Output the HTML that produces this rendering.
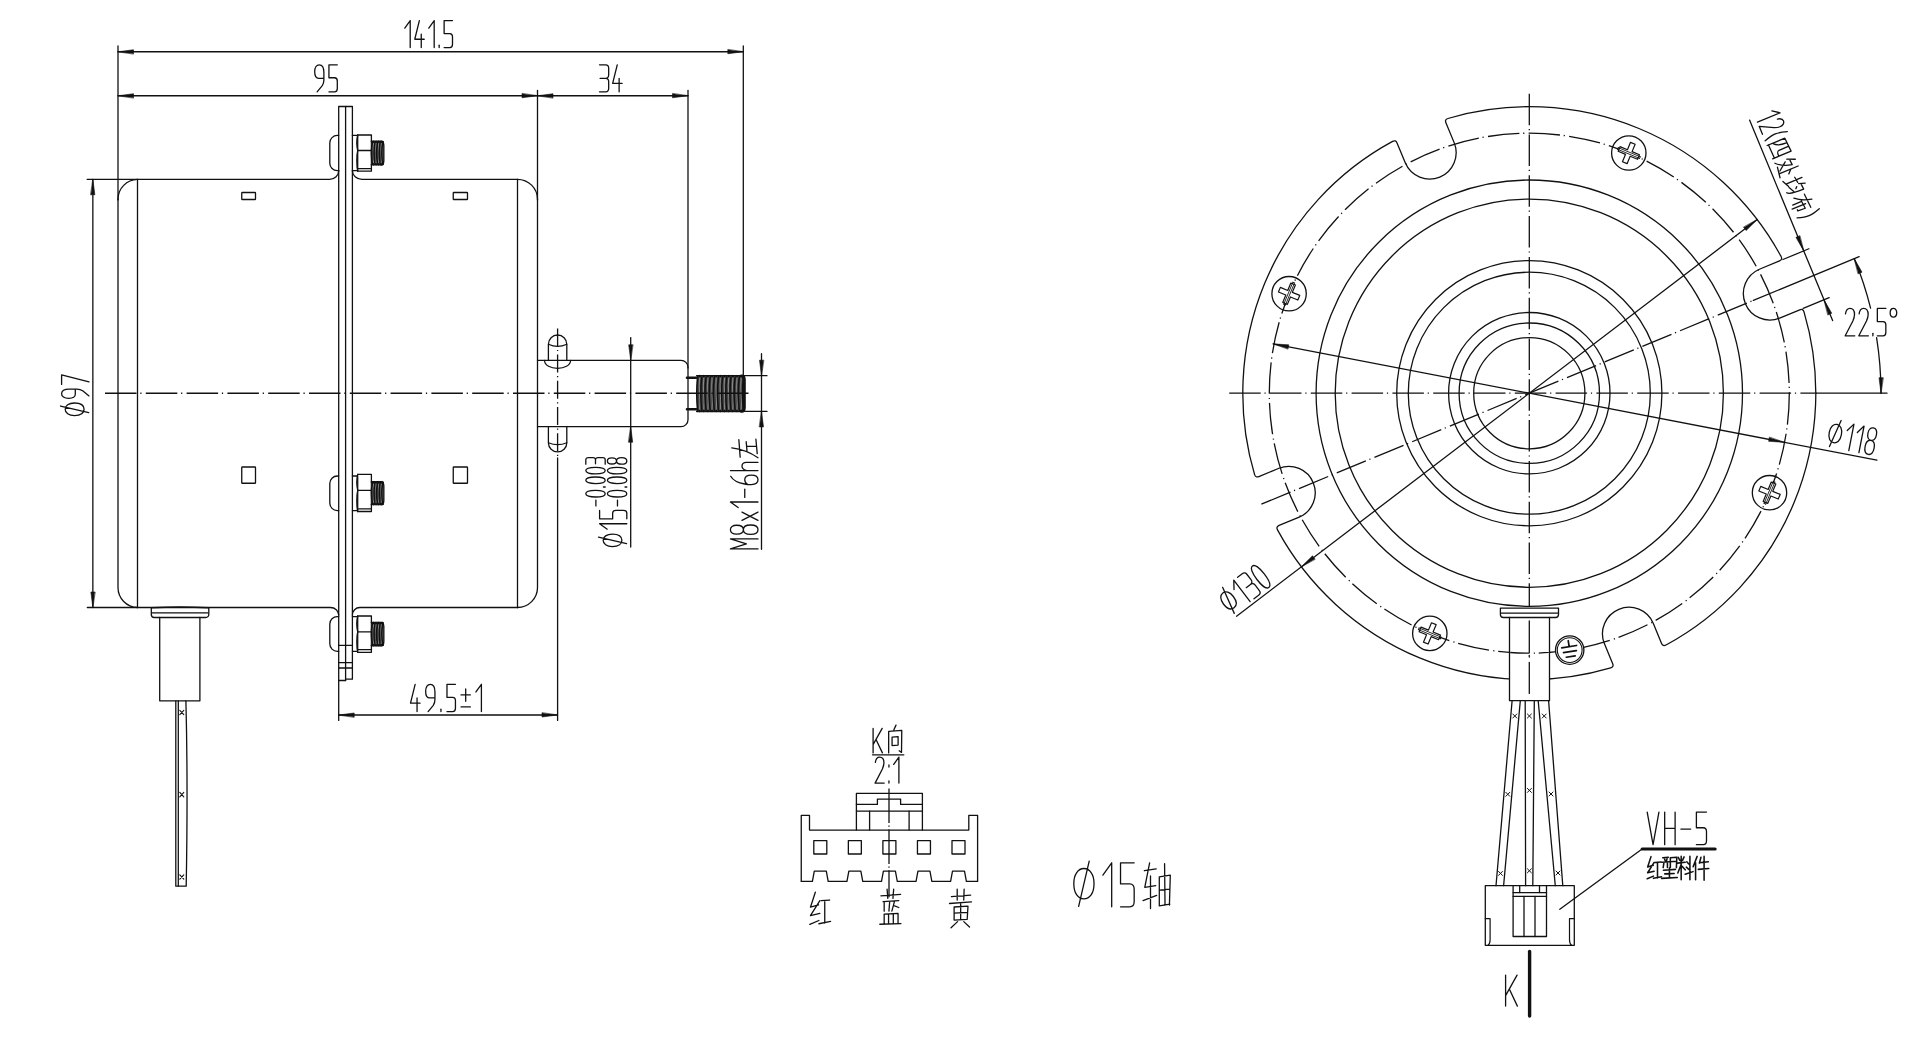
<!DOCTYPE html>
<html><head><meta charset="utf-8"><style>
html,body{margin:0;padding:0;background:#fff;width:1920px;height:1043px;overflow:hidden;font-family:"Liberation Sans",sans-serif;}
svg{display:block}
svg *{vector-effect:non-scaling-stroke}
.ar{fill:#111;stroke:#111;stroke-width:0.6px}
.t{stroke-width:inherit}
.cl{stroke-dasharray:31.5 3.8 1.2 4.3;stroke-linecap:butt}
.cl2{stroke-dasharray:18 3.5 1.2 3.5;stroke-linecap:butt}
.cl3{stroke-dasharray:34.5 2.6 1.2 2.6;stroke-linecap:butt}
.clc{stroke-dasharray:31.5 3.8 1.2 4.3;stroke-linecap:butt}
</style></head><body>
<svg width="1920" height="1043" viewBox="0 0 1920 1043">
<defs><clipPath id="sl"><rect x="1510.2" y="618" width="38.6" height="82"/></clipPath></defs>
<rect width="1920" height="1043" fill="#fff"/>
<g fill="none" stroke="#111" stroke-width="1.3" stroke-linecap="round" stroke-linejoin="round" style="stroke-width:1.3px">
<line x1="118" y1="46" x2="118" y2="200"/>
<line x1="743.3" y1="46" x2="743.3" y2="376"/>
<line x1="118" y1="51.75" x2="743.3" y2="51.75"/>
<path class="ar" d="M118,51.75 L133.5,49.75 L133.5,53.75 Z"/>
<path class="ar" d="M743.3,51.75 L727.8,53.75 L727.8,49.75 Z"/>
<g transform="translate(404.8,47.6) rotate(0)"><path class="t" transform="translate(0,-27) scale(0.2700,0.2700)" d="M0,28 L20,0 L20,100"/><path class="t" transform="translate(9.97,-27) scale(0.2700,0.2700)" d="M17,0 L0,69 L35,69 M24,50 L24,100"/><path class="t" transform="translate(23.99,-27) scale(0.2700,0.2700)" d="M0,28 L20,0 L20,100"/><path class="t" transform="translate(33.95,-27) scale(0.2700,0.2700)" d="M1.5,91 L1.5,100"/><path class="t" transform="translate(39.33,-27) scale(0.2700,0.2700)" d="M31,0 L0,0 L0,48 L21,48 C28,48 31,53 31,60 L31,88 C31,95 28,100 21,100 L0,100"/></g>
<line x1="118" y1="95.75" x2="688" y2="95.75"/>
<path class="ar" d="M118,95.75 L133.5,93.75 L133.5,97.75 Z"/>
<path class="ar" d="M537.5,95.75 L522,97.75 L522,93.75 Z"/>
<path class="ar" d="M537.5,95.75 L553,93.75 L553,97.75 Z"/>
<path class="ar" d="M688,95.75 L672.5,97.75 L672.5,93.75 Z"/>
<line x1="537.5" y1="90.5" x2="537.5" y2="200"/>
<line x1="688" y1="90.5" x2="688" y2="368"/>
<g transform="translate(314.7,91.8) rotate(0)"><path class="t" transform="translate(0,-27) scale(0.2700,0.2700)" d="M34,50 L15,50 C5,50 0,42 0,26 C0,9 7,0 17,0 C28,0 34,10 34,28 L34,56 C34,64 32,71 28,77 L9,100"/><path class="t" transform="translate(14.23,-27) scale(0.2700,0.2700)" d="M31,0 L0,0 L0,48 L21,48 C28,48 31,53 31,60 L31,88 C31,95 28,100 21,100 L0,100"/></g>
<g transform="translate(599.5,91.8) rotate(0)"><path class="t" transform="translate(0,-27) scale(0.2700,0.2700)" d="M0,0 L23,0 C30,0 34,5 34,13 L34,37 C34,45 30,50 23,50 L2,50 M23,50 C30,50 34,55 34,63 L34,87 C34,95 30,100 23,100 L0,100"/><path class="t" transform="translate(13.15,-27) scale(0.2700,0.2700)" d="M17,0 L0,69 L35,69 M24,50 L24,100"/></g>
<path d="M118,199.3 L118,587.5 A20,20 0 0 0 137.5,607.5"/>
<path d="M118,199.3 A20,20 0 0 1 137.5,179.3"/>
<path d="M537.5,199.3 L537.5,587.5 A20,20 0 0 1 517.5,607.5"/>
<path d="M537.5,199.3 A20,20 0 0 0 517.5,179.3"/>
<line x1="137.5" y1="179.3" x2="137.5" y2="607.5"/>
<line x1="517.5" y1="179.3" x2="517.5" y2="607.5"/>
<path d="M87.1,179.3 L329.8,179.3 A9,8.6 0 0 0 338.7,170.7"/>
<path d="M352.4,170.7 A9.4,8.6 0 0 0 361.8,179.3 L517.5,179.3"/>
<path d="M87.3,607.5 L330.5,607.5 A8.2,7.6 0 0 1 338.7,615.1"/>
<path d="M352.4,615.1 A7.4,7.6 0 0 1 359.8,607.5 L517.5,607.5"/>
<rect x="241.75" y="192.5" width="13.75" height="7" rx="0.6"/>
<rect x="241.75" y="467" width="13.75" height="16.25" rx="0.6"/>
<rect x="453.25" y="192.5" width="14.25" height="7" rx="0.6"/>
<rect x="453.25" y="467" width="14.25" height="16.25" rx="0.6"/>
<path d="M338.7,720.4 L338.7,106.5 L352.4,106.5 L352.4,679.2 L345.6,679.2"/>
<line x1="345.6" y1="106.5" x2="345.6" y2="680.5"/>
<line x1="338.7" y1="680.5" x2="345.6" y2="680.5"/>
<line x1="338.7" y1="645.4" x2="352.4" y2="645.4"/>
<line x1="338.7" y1="662.6" x2="352.4" y2="662.6"/>
<line x1="338.7" y1="668" x2="352.4" y2="668"/>
<path d="M338.7,135.4 L337.3,135.4 A7.5,7.5 0 0 0 329.8,142.9 L329.8,163.2 A7.5,7.5 0 0 0 337.3,170.7 L338.7,170.7"/>
<path d="M352.4,135.4 L357.7,135.4 L357.7,170.7 L352.4,170.7"/>
<path d="M357.7,135 L371.4,135 L371.4,171.2 L357.7,171.2"/>
<path d="M357.7,135 C356.5,140 356.5,145.5 357.7,150.5 C356.5,155.5 356.5,166.2 357.7,171.2"/>
<line x1="357.7" y1="150.5" x2="371.4" y2="150.5"/>
<line x1="358" y1="168.6" x2="371.4" y2="168.6"/>
<rect x="371.4" y="142.4" width="11.4" height="21.3" fill="#444" stroke="none"/>
<path d="M372.5,142 C371.2,148.39 371.2,157.71 372.5,164.1" stroke-width="1.5"/>
<path d="M373.5,143.4 C372.72,149.56 374.28,156.54 373.5,162.7" stroke-width="0.6" stroke="#bbb"/>
<circle cx="373.5" cy="141.8" r="0.9" stroke-width="0.6" fill="#000"/>
<circle cx="373.5" cy="164.3" r="0.9" stroke-width="0.6" fill="#000"/>
<path d="M375.1,142 C373.8,148.39 373.8,157.71 375.1,164.1" stroke-width="1.5"/>
<path d="M376.1,143.4 C375.32,149.56 376.88,156.54 376.1,162.7" stroke-width="0.6" stroke="#bbb"/>
<circle cx="376.1" cy="141.8" r="0.9" stroke-width="0.6" fill="#000"/>
<circle cx="376.1" cy="164.3" r="0.9" stroke-width="0.6" fill="#000"/>
<path d="M377.7,142 C376.4,148.39 376.4,157.71 377.7,164.1" stroke-width="1.5"/>
<path d="M378.7,143.4 C377.92,149.56 379.48,156.54 378.7,162.7" stroke-width="0.6" stroke="#bbb"/>
<circle cx="378.7" cy="141.8" r="0.9" stroke-width="0.6" fill="#000"/>
<circle cx="378.7" cy="164.3" r="0.9" stroke-width="0.6" fill="#000"/>
<path d="M380.3,142 C379,148.39 379,157.71 380.3,164.1" stroke-width="1.5"/>
<path d="M381.3,143.4 C380.52,149.56 382.08,156.54 381.3,162.7" stroke-width="0.6" stroke="#bbb"/>
<circle cx="381.3" cy="141.8" r="0.9" stroke-width="0.6" fill="#000"/>
<circle cx="381.3" cy="164.3" r="0.9" stroke-width="0.6" fill="#000"/>
<path d="M382.9,142 C381.6,148.39 381.6,157.71 382.9,164.1" stroke-width="1.5"/>
<circle cx="382.6" cy="141.8" r="0.9" stroke-width="0.6" fill="#000"/>
<circle cx="382.6" cy="164.3" r="0.9" stroke-width="0.6" fill="#000"/>
<path d="M371.4,141.4 L381.3,141.4 M371.4,164.7 L381.3,164.7" stroke-width="1.6"/>
<path d="M380.8,141.4 C383.3,141.4 383.8,142.9 383.8,145.4 L383.8,160.7 C383.8,163.2 383.3,164.7 380.8,164.7" stroke-width="1.4"/>
<path d="M338.7,476 L337.3,476 A7.5,7.5 0 0 0 329.8,483.5 L329.8,503.1 A7.5,7.5 0 0 0 337.3,510.6 L338.7,510.6"/>
<path d="M352.4,476 L357.7,476 L357.7,510.6 L352.4,510.6"/>
<path d="M357.7,474.4 L371.4,474.4 L371.4,511.5 L357.7,511.5"/>
<path d="M357.7,474.4 C356.5,479.4 356.5,485.3 357.7,490.3 C356.5,495.3 356.5,506.5 357.7,511.5"/>
<line x1="357.7" y1="490.3" x2="371.4" y2="490.3"/>
<line x1="358" y1="508.9" x2="371.4" y2="508.9"/>
<rect x="371.4" y="482.9" width="11.4" height="20.6" fill="#444" stroke="none"/>
<path d="M372.5,482.5 C371.2,488.68 371.2,497.72 372.5,503.9" stroke-width="1.5"/>
<path d="M373.5,483.9 C372.72,489.81 374.28,496.59 373.5,502.5" stroke-width="0.6" stroke="#bbb"/>
<circle cx="373.5" cy="482.3" r="0.9" stroke-width="0.6" fill="#000"/>
<circle cx="373.5" cy="504.1" r="0.9" stroke-width="0.6" fill="#000"/>
<path d="M375.1,482.5 C373.8,488.68 373.8,497.72 375.1,503.9" stroke-width="1.5"/>
<path d="M376.1,483.9 C375.32,489.81 376.88,496.59 376.1,502.5" stroke-width="0.6" stroke="#bbb"/>
<circle cx="376.1" cy="482.3" r="0.9" stroke-width="0.6" fill="#000"/>
<circle cx="376.1" cy="504.1" r="0.9" stroke-width="0.6" fill="#000"/>
<path d="M377.7,482.5 C376.4,488.68 376.4,497.72 377.7,503.9" stroke-width="1.5"/>
<path d="M378.7,483.9 C377.92,489.81 379.48,496.59 378.7,502.5" stroke-width="0.6" stroke="#bbb"/>
<circle cx="378.7" cy="482.3" r="0.9" stroke-width="0.6" fill="#000"/>
<circle cx="378.7" cy="504.1" r="0.9" stroke-width="0.6" fill="#000"/>
<path d="M380.3,482.5 C379,488.68 379,497.72 380.3,503.9" stroke-width="1.5"/>
<path d="M381.3,483.9 C380.52,489.81 382.08,496.59 381.3,502.5" stroke-width="0.6" stroke="#bbb"/>
<circle cx="381.3" cy="482.3" r="0.9" stroke-width="0.6" fill="#000"/>
<circle cx="381.3" cy="504.1" r="0.9" stroke-width="0.6" fill="#000"/>
<path d="M382.9,482.5 C381.6,488.68 381.6,497.72 382.9,503.9" stroke-width="1.5"/>
<circle cx="382.6" cy="482.3" r="0.9" stroke-width="0.6" fill="#000"/>
<circle cx="382.6" cy="504.1" r="0.9" stroke-width="0.6" fill="#000"/>
<path d="M371.4,481.9 L381.3,481.9 M371.4,504.5 L381.3,504.5" stroke-width="1.6"/>
<path d="M380.8,481.9 C383.3,481.9 383.8,483.4 383.8,485.9 L383.8,500.5 C383.8,503 383.3,504.5 380.8,504.5" stroke-width="1.4"/>
<path d="M338.7,616.6 L337.3,616.6 A7.5,7.5 0 0 0 329.8,624.1 L329.8,643.8 A7.5,7.5 0 0 0 337.3,651.3 L338.7,651.3"/>
<path d="M352.4,616.6 L357.7,616.6 L357.7,651.3 L352.4,651.3"/>
<path d="M357.7,616 L371.4,616 L371.4,652.3 L357.7,652.3"/>
<path d="M357.7,616 C356.5,621 356.5,626.8 357.7,631.8 C356.5,636.8 356.5,647.3 357.7,652.3"/>
<line x1="357.7" y1="631.8" x2="371.4" y2="631.8"/>
<line x1="358" y1="649.7" x2="371.4" y2="649.7"/>
<rect x="371.4" y="623.6" width="11.4" height="21" fill="#444" stroke="none"/>
<path d="M372.5,623.2 C371.2,629.5 371.2,638.7 372.5,645" stroke-width="1.5"/>
<path d="M373.5,624.6 C372.72,630.65 374.28,637.55 373.5,643.6" stroke-width="0.6" stroke="#bbb"/>
<circle cx="373.5" cy="623" r="0.9" stroke-width="0.6" fill="#000"/>
<circle cx="373.5" cy="645.2" r="0.9" stroke-width="0.6" fill="#000"/>
<path d="M375.1,623.2 C373.8,629.5 373.8,638.7 375.1,645" stroke-width="1.5"/>
<path d="M376.1,624.6 C375.32,630.65 376.88,637.55 376.1,643.6" stroke-width="0.6" stroke="#bbb"/>
<circle cx="376.1" cy="623" r="0.9" stroke-width="0.6" fill="#000"/>
<circle cx="376.1" cy="645.2" r="0.9" stroke-width="0.6" fill="#000"/>
<path d="M377.7,623.2 C376.4,629.5 376.4,638.7 377.7,645" stroke-width="1.5"/>
<path d="M378.7,624.6 C377.92,630.65 379.48,637.55 378.7,643.6" stroke-width="0.6" stroke="#bbb"/>
<circle cx="378.7" cy="623" r="0.9" stroke-width="0.6" fill="#000"/>
<circle cx="378.7" cy="645.2" r="0.9" stroke-width="0.6" fill="#000"/>
<path d="M380.3,623.2 C379,629.5 379,638.7 380.3,645" stroke-width="1.5"/>
<path d="M381.3,624.6 C380.52,630.65 382.08,637.55 381.3,643.6" stroke-width="0.6" stroke="#bbb"/>
<circle cx="381.3" cy="623" r="0.9" stroke-width="0.6" fill="#000"/>
<circle cx="381.3" cy="645.2" r="0.9" stroke-width="0.6" fill="#000"/>
<path d="M382.9,623.2 C381.6,629.5 381.6,638.7 382.9,645" stroke-width="1.5"/>
<circle cx="382.6" cy="623" r="0.9" stroke-width="0.6" fill="#000"/>
<circle cx="382.6" cy="645.2" r="0.9" stroke-width="0.6" fill="#000"/>
<path d="M371.4,622.6 L381.3,622.6 M371.4,645.6 L381.3,645.6" stroke-width="1.6"/>
<path d="M380.8,622.6 C383.3,622.6 383.8,624.1 383.8,626.6 L383.8,641.6 C383.8,644.1 383.3,645.6 380.8,645.6" stroke-width="1.4"/>
<line x1="92.85" y1="179.3" x2="92.85" y2="607.5"/>
<path class="ar" d="M92.85,179.3 L94.85,194.8 L90.85,194.8 Z"/>
<path class="ar" d="M92.85,607.5 L90.85,592 L94.85,592 Z"/>
<g transform="translate(89,415.6) rotate(-90)"><path class="t" transform="translate(0,-27.4) scale(0.2740,0.2740)" d="M23,13 C10,13 0,26 0,47 C0,70 10,82 23,82 C36,82 46,70 46,47 C46,26 36,13 23,13 Z M35,-4 L11,99"/><path class="t" transform="translate(17.25,-27.4) scale(0.2740,0.2740)" d="M34,50 L15,50 C5,50 0,42 0,26 C0,9 7,0 17,0 C28,0 34,10 34,28 L34,56 C34,64 32,71 28,77 L9,100"/><path class="t" transform="translate(31.21,-27.4) scale(0.2740,0.2740)" d="M0,0 L35,0 L9,100"/></g>
<path d="M151.3,608 L151.3,614.5 A3,3 0 0 0 154.3,617.5 L205.8,617.5 A3,3 0 0 0 208.8,614.5 L208.8,608"/>
<path d="M151.5,607.8 Q180,606.3 208.5,607.8" stroke-width="1.6"/>
<line x1="152" y1="612.9" x2="208" y2="612.9"/>
<path d="M159.7,617.5 L159.7,700.8 L199.9,700.8 L199.9,617.5"/>
<path d="M175.8,700.8 L175.8,886.2 L186.2,886.2 C187.4,820 187.4,760 185.9,700.8"/>
<line x1="178.3" y1="700.8" x2="178.3" y2="886.2"/>
<path d="M179.8,710.3 L183.8,714.7 M183.8,710.3 L179.8,714.7" stroke-width="1.1"/>
<path d="M179.8,792.4 L183.8,796.8 M183.8,792.4 L179.8,796.8" stroke-width="1.1"/>
<path d="M179.8,874.8 L183.8,879.2 M183.8,874.8 L179.8,879.2" stroke-width="1.1"/>
<path d="M537.5,360.3 L681,360.3 A7,7 0 0 1 688,367.3 L688,419.7 A7,7 0 0 1 681,426.7 L537.5,426.7"/>
<path d="M548.4,360.3 L548.4,344.2 A9.2,9.2 0 0 1 566.8,344.2 L566.8,360.3"/>
<path d="M548.4,344.2 Q557.6,348.5 566.8,344.2" stroke-width="1.1"/>
<path d="M544.5,360.3 C544.5,371 570.6,371 570.6,360.3" stroke-width="1.2"/>
<path d="M548.4,426.7 L548.4,442.7 A9.2,9.2 0 0 0 566.8,442.7 L566.8,426.7"/>
<path d="M548.4,442.7 Q557.6,446.5 566.8,442.7" stroke-width="1.1"/>
<line x1="557.6" y1="328.4" x2="557.6" y2="458" class="cl2"/>
<line x1="557.6" y1="458" x2="557.6" y2="720.4"/>
<path d="M687,377.8 L697,377.8 M687,409.2 L697,409.2" stroke-width="2.6"/>
<rect x="696.7" y="376.8" width="46.7" height="33.6" fill="#444" stroke="none"/>
<path d="M697.8,376.4 C696.5,386.48 696.5,400.72 697.8,410.8" stroke-width="1.5"/>
<path d="M699.58,377.8 C698.33,388.26 700.82,398.94 699.58,409.4" stroke-width="0.6" stroke="#bbb"/>
<circle cx="699.58" cy="376.2" r="0.9" stroke-width="0.6" fill="#000"/>
<circle cx="699.58" cy="411" r="0.9" stroke-width="0.6" fill="#000"/>
<path d="M701.95,376.4 C700.65,386.48 700.65,400.72 701.95,410.8" stroke-width="1.5"/>
<path d="M703.73,377.8 C702.49,388.26 704.98,398.94 703.73,409.4" stroke-width="0.6" stroke="#bbb"/>
<circle cx="703.73" cy="376.2" r="0.9" stroke-width="0.6" fill="#000"/>
<circle cx="703.73" cy="411" r="0.9" stroke-width="0.6" fill="#000"/>
<path d="M706.11,376.4 C704.81,386.48 704.81,400.72 706.11,410.8" stroke-width="1.5"/>
<path d="M707.89,377.8 C706.64,388.26 709.13,398.94 707.89,409.4" stroke-width="0.6" stroke="#bbb"/>
<circle cx="707.89" cy="376.2" r="0.9" stroke-width="0.6" fill="#000"/>
<circle cx="707.89" cy="411" r="0.9" stroke-width="0.6" fill="#000"/>
<path d="M710.26,376.4 C708.96,386.48 708.96,400.72 710.26,410.8" stroke-width="1.5"/>
<path d="M712.04,377.8 C710.79,388.26 713.29,398.94 712.04,409.4" stroke-width="0.6" stroke="#bbb"/>
<circle cx="712.04" cy="376.2" r="0.9" stroke-width="0.6" fill="#000"/>
<circle cx="712.04" cy="411" r="0.9" stroke-width="0.6" fill="#000"/>
<path d="M714.42,376.4 C713.12,386.48 713.12,400.72 714.42,410.8" stroke-width="1.5"/>
<path d="M716.2,377.8 C714.95,388.26 717.44,398.94 716.2,409.4" stroke-width="0.6" stroke="#bbb"/>
<circle cx="716.2" cy="376.2" r="0.9" stroke-width="0.6" fill="#000"/>
<circle cx="716.2" cy="411" r="0.9" stroke-width="0.6" fill="#000"/>
<path d="M718.57,376.4 C717.27,386.48 717.27,400.72 718.57,410.8" stroke-width="1.5"/>
<path d="M720.35,377.8 C719.1,388.26 721.6,398.94 720.35,409.4" stroke-width="0.6" stroke="#bbb"/>
<circle cx="720.35" cy="376.2" r="0.9" stroke-width="0.6" fill="#000"/>
<circle cx="720.35" cy="411" r="0.9" stroke-width="0.6" fill="#000"/>
<path d="M722.73,376.4 C721.43,386.48 721.43,400.72 722.73,410.8" stroke-width="1.5"/>
<path d="M724.5,377.8 C723.26,388.26 725.75,398.94 724.5,409.4" stroke-width="0.6" stroke="#bbb"/>
<circle cx="724.5" cy="376.2" r="0.9" stroke-width="0.6" fill="#000"/>
<circle cx="724.5" cy="411" r="0.9" stroke-width="0.6" fill="#000"/>
<path d="M726.88,376.4 C725.58,386.48 725.58,400.72 726.88,410.8" stroke-width="1.5"/>
<path d="M728.66,377.8 C727.41,388.26 729.91,398.94 728.66,409.4" stroke-width="0.6" stroke="#bbb"/>
<circle cx="728.66" cy="376.2" r="0.9" stroke-width="0.6" fill="#000"/>
<circle cx="728.66" cy="411" r="0.9" stroke-width="0.6" fill="#000"/>
<path d="M731.04,376.4 C729.74,386.48 729.74,400.72 731.04,410.8" stroke-width="1.5"/>
<path d="M732.81,377.8 C731.57,388.26 734.06,398.94 732.81,409.4" stroke-width="0.6" stroke="#bbb"/>
<circle cx="732.81" cy="376.2" r="0.9" stroke-width="0.6" fill="#000"/>
<circle cx="732.81" cy="411" r="0.9" stroke-width="0.6" fill="#000"/>
<path d="M735.19,376.4 C733.89,386.48 733.89,400.72 735.19,410.8" stroke-width="1.5"/>
<path d="M736.97,377.8 C735.72,388.26 738.21,398.94 736.97,409.4" stroke-width="0.6" stroke="#bbb"/>
<circle cx="736.97" cy="376.2" r="0.9" stroke-width="0.6" fill="#000"/>
<circle cx="736.97" cy="411" r="0.9" stroke-width="0.6" fill="#000"/>
<path d="M739.35,376.4 C738.05,386.48 738.05,400.72 739.35,410.8" stroke-width="1.5"/>
<path d="M741.12,377.8 C739.88,388.26 742.37,398.94 741.12,409.4" stroke-width="0.6" stroke="#bbb"/>
<circle cx="741.12" cy="376.2" r="0.9" stroke-width="0.6" fill="#000"/>
<circle cx="741.12" cy="411" r="0.9" stroke-width="0.6" fill="#000"/>
<path d="M743.5,376.4 C742.2,386.48 742.2,400.72 743.5,410.8" stroke-width="1.5"/>
<circle cx="743.2" cy="376.2" r="0.9" stroke-width="0.6" fill="#000"/>
<circle cx="743.2" cy="411" r="0.9" stroke-width="0.6" fill="#000"/>
<path d="M696.7,375.8 L741.9,375.8 M696.7,411.4 L741.9,411.4" stroke-width="1.6"/>
<path d="M741.4,375.8 C743.9,375.8 744.4,377.3 744.4,379.8 L744.4,407.4 C744.4,409.9 743.9,411.4 741.4,411.4" stroke-width="2.8"/>
<line x1="744" y1="375.7" x2="767" y2="375.7"/>
<line x1="744" y1="411.4" x2="767" y2="411.4"/>
<line x1="761.5" y1="353.7" x2="761.5" y2="549.3"/>
<path class="ar" d="M761.5,375.7 L759.5,360.2 L763.5,360.2 Z"/>
<path class="ar" d="M761.5,411.4 L763.5,426.9 L759.5,426.9 Z"/>
<g transform="translate(758,548.9) rotate(-90)"><path class="t" transform="translate(0,-27.6) scale(0.2760,0.2760)" d="M0,100 L0,0 L18,58 L36,0 L36,100"/><path class="t" transform="translate(14.53,-27.6) scale(0.2760,0.2760)" d="M17,0 C7,0 1,8 1,23 C1,39 7,47 17,47 C27,47 33,39 33,23 C33,8 27,0 17,0 Z M17,47 C6,47 0,56 0,73 C0,91 6,100 17,100 C28,100 34,91 34,73 C34,56 28,47 17,47 Z"/><path class="t" transform="translate(28.5,-27.6) scale(0.2760,0.2760)" d="M0,42 L30,100 M30,42 L0,100"/><path class="t" transform="translate(41.37,-27.6) scale(0.2760,0.2760)" d="M0,28 L20,0 L20,100"/><path class="t" transform="translate(51.48,-27.6) scale(0.2760,0.2760)" d="M0,52 L30,52"/><path class="t" transform="translate(64.35,-27.6) scale(0.2760,0.2760)" d="M30,1 C18,8 6,26 2,52 C0,60 0,68 0,76 C0,92 7,100 17,100 C27,100 34,92 34,76 C34,60 27,52 17,52 C10,52 4,56 1,62"/><path class="t" transform="translate(78.33,-27.6) scale(0.2760,0.2760)" d="M0,0 L0,100 M0,60 C3,48 9,42 16,42 C25,42 30,48 30,58 L30,100"/><path class="t" transform="translate(91.2,-26.22) scale(0.2570,0.2622)" d="M2,32 L70,27 M38,0 C33,40 19,72 0,100 M26,58 L62,55 M44,57 L44,94 M16,97 L72,92"/></g>
<line x1="630.7" y1="337.6" x2="630.7" y2="547"/>
<path class="ar" d="M630.7,360.3 L628.7,344.8 L632.7,344.8 Z"/>
<path class="ar" d="M630.7,426.7 L632.7,442.2 L628.7,442.2 Z"/>
<g transform="translate(626.8,546.6) rotate(-90)"><path class="t" transform="translate(0,-27.2) scale(0.2720,0.2720)" d="M23,13 C10,13 0,26 0,47 C0,70 10,82 23,82 C36,82 46,70 46,47 C46,26 36,13 23,13 Z M35,-4 L11,99"/><path class="t" transform="translate(17.42,-27.2) scale(0.2720,0.2720)" d="M0,28 L20,0 L20,100"/><path class="t" transform="translate(27.77,-27.2) scale(0.2720,0.2720)" d="M31,0 L0,0 L0,48 L21,48 C28,48 31,53 31,60 L31,88 C31,95 28,100 21,100 L0,100"/></g>
<g transform="translate(605.2,505.9) rotate(-90)"><path class="t" transform="translate(0,-19.4) scale(0.1940,0.1940)" d="M0,52 L30,52"/><path class="t" transform="translate(8.92,-19.4) scale(0.1940,0.1940)" d="M17,0 C6,0 0,20 0,50 C0,80 6,100 17,100 C28,100 34,80 34,50 C34,20 28,0 17,0 Z"/><path class="t" transform="translate(18.62,-19.4) scale(0.1940,0.1940)" d="M1.5,91 L1.5,100"/><path class="t" transform="translate(22.31,-19.4) scale(0.1940,0.1940)" d="M17,0 C6,0 0,20 0,50 C0,80 6,100 17,100 C28,100 34,80 34,50 C34,20 28,0 17,0 Z"/><path class="t" transform="translate(32.01,-19.4) scale(0.1940,0.1940)" d="M17,0 C6,0 0,20 0,50 C0,80 6,100 17,100 C28,100 34,80 34,50 C34,20 28,0 17,0 Z"/><path class="t" transform="translate(41.7,-19.4) scale(0.1940,0.1940)" d="M0,0 L23,0 C30,0 34,5 34,13 L34,37 C34,45 30,50 23,50 L2,50 M23,50 C30,50 34,55 34,63 L34,87 C34,95 30,100 23,100 L0,100"/></g>
<g transform="translate(626.8,505.9) rotate(-90)"><path class="t" transform="translate(0,-19.4) scale(0.1940,0.1940)" d="M0,52 L30,52"/><path class="t" transform="translate(8.92,-19.4) scale(0.1940,0.1940)" d="M17,0 C6,0 0,20 0,50 C0,80 6,100 17,100 C28,100 34,80 34,50 C34,20 28,0 17,0 Z"/><path class="t" transform="translate(18.62,-19.4) scale(0.1940,0.1940)" d="M1.5,91 L1.5,100"/><path class="t" transform="translate(22.31,-19.4) scale(0.1940,0.1940)" d="M17,0 C6,0 0,20 0,50 C0,80 6,100 17,100 C28,100 34,80 34,50 C34,20 28,0 17,0 Z"/><path class="t" transform="translate(32.01,-19.4) scale(0.1940,0.1940)" d="M17,0 C6,0 0,20 0,50 C0,80 6,100 17,100 C28,100 34,80 34,50 C34,20 28,0 17,0 Z"/><path class="t" transform="translate(41.7,-19.4) scale(0.1940,0.1940)" d="M17,0 C7,0 1,8 1,23 C1,39 7,47 17,47 C27,47 33,39 33,23 C33,8 27,0 17,0 Z M17,47 C6,47 0,56 0,73 C0,91 6,100 17,100 C28,100 34,91 34,73 C34,56 28,47 17,47 Z"/></g>
<line x1="338.7" y1="715" x2="557.5" y2="715"/>
<path class="ar" d="M338.7,715 L354.2,713 L354.2,717 Z"/>
<path class="ar" d="M557.5,715 L542,717 L542,713 Z"/>
<g transform="translate(410.5,711.6) rotate(0)"><path class="t" transform="translate(0,-27.3) scale(0.2730,0.2730)" d="M17,0 L0,69 L35,69 M24,50 L24,100"/><path class="t" transform="translate(15.16,-27.3) scale(0.2730,0.2730)" d="M34,50 L15,50 C5,50 0,42 0,26 C0,9 7,0 17,0 C28,0 34,10 34,28 L34,56 C34,64 32,71 28,77 L9,100"/><path class="t" transform="translate(30.05,-27.3) scale(0.2730,0.2730)" d="M1.5,91 L1.5,100"/><path class="t" transform="translate(36.48,-27.3) scale(0.2730,0.2730)" d="M31,0 L0,0 L0,48 L21,48 C28,48 31,53 31,60 L31,88 C31,95 28,100 21,100 L0,100"/><path class="t" transform="translate(50.55,-27.3) scale(0.2730,0.2730)" d="M0,39 L34,39 M17,17 L17,62 M0,83 L34,83"/><path class="t" transform="translate(65.44,-27.3) scale(0.2730,0.2730)" d="M0,28 L20,0 L20,100"/></g>
<line x1="105" y1="393.25" x2="750" y2="393.25" class="cl"/>
<g transform="translate(873.1,752.9) rotate(0)"><path class="t" transform="translate(0,-24.5) scale(0.2450,0.2450)" d="M0,0 L0,100 M37,0 L0,66 M12,45 L38,100"/><path class="t" transform="translate(15.04,-26.21) scale(0.2621,0.2621)" d="M30,-6 L22,12 M2,18 L2,100 M2,18 L52,14 L51,98 L42,92 M15,40 L38,38 L38,70 L15,72 Z"/></g>
<line x1="872.5" y1="754.8" x2="903.8" y2="754.8"/>
<g transform="translate(875.1,783.1) rotate(0)"><path class="t" transform="translate(0,-26) scale(0.2600,0.2600)" d="M1,20 C3,6 9,0 17,0 C27,0 34,8 34,22 C34,31 31,39 28,46 L0,100 L35,100"/><path class="t" transform="translate(13.33,-26) scale(0.2600,0.2600)" d="M2,30 L2,38 M2,92 L2,100"/><path class="t" transform="translate(18.6,-26) scale(0.2600,0.2600)" d="M0,28 L20,0 L20,100"/></g>
<line x1="889" y1="788.5" x2="889" y2="897.2" class="cl3"/>
<path d="M801.25,881.35 L801.25,815.3 L809.5,815.3 L809.5,830.1 L968.8,830.1 L968.8,815.3 L977.6,815.3 L977.6,881.35"/>
<path d="M801.25,881.35 L812.4,881.35 L814.3,871.2 L826.3,871.2 L828.2,881.35 L846.95,881.35 L848.85,871.2 L860.85,871.2 L862.75,881.35 L881.5,881.35 L883.4,871.2 L895.4,871.2 L897.3,881.35 L916.05,881.35 L917.95,871.2 L929.95,871.2 L931.85,881.35 L950.6,881.35 L952.5,871.2 L964.5,871.2 L966.4,881.35 L977.6,881.35"/>
<rect x="813.8" y="840.6" width="13" height="13.4"/>
<rect x="848.35" y="840.6" width="13" height="13.4"/>
<rect x="882.9" y="840.6" width="13" height="13.4"/>
<rect x="917.45" y="840.6" width="13" height="13.4"/>
<rect x="952" y="840.6" width="13" height="13.4"/>
<path d="M856.4,830.1 L856.4,793.4 L922.4,793.4 L922.4,830.1"/>
<line x1="856.4" y1="811.1" x2="922.4" y2="811.1"/>
<path d="M856.4,804.4 L877.4,804.4 L877.4,799.1 L900.6,799.1 L900.6,804.4 L922.4,804.4"/>
<line x1="869.6" y1="811.1" x2="869.6" y2="830.1"/>
<line x1="909.1" y1="811.1" x2="909.1" y2="830.1"/>
<g transform="translate(809.8,924.4) rotate(0)"><path class="t" transform="translate(0,-32.5) scale(0.3250,0.3250)" d="M17,1 L2,47 L27,40 M31,27 L2,73 L31,66 M0,100 L28,88 M35,27 L61,25 M46,27 L46,96 M28,98 L64,91"/></g>
<g transform="translate(879.8,925) rotate(0)"><path class="t" transform="translate(0,-36.5) scale(0.3650,0.3650)" d="M3,20 L57,16 M20,2 L22,27 M38,2 L36,27 M9,36 L52,33 M12,36 L12,62 M27,37 L25,62 M40,36 L33,62 M37,46 L52,52 M12,70 L50,68 L50,96 M12,70 L12,96 M24,70 L24,96 M37,70 L37,96 M0,98 L58,96"/></g>
<g transform="translate(949.5,927) rotate(0)"><path class="t" transform="translate(0,-38.5) scale(0.3850,0.3850)" d="M5,21 L55,17 M20,2 L20,30 M38,2 L37,30 M0,39 L57,35 M12,48 L48,46 L46,80 M12,48 L12,82 L46,80 M12,64 L47,62 M29,37 L29,80 M21,86 L4,102 M37,86 L52,100"/></g>
<g transform="translate(1073.8,906.8) rotate(0)"><path class="t" transform="translate(0,-44) scale(0.4400,0.4400)" d="M23,13 C10,13 0,26 0,47 C0,70 10,82 23,82 C36,82 46,70 46,47 C46,26 36,13 23,13 Z M35,-4 L11,99"/><path class="t" transform="translate(29.09,-44) scale(0.4400,0.4400)" d="M0,28 L20,0 L20,100"/><path class="t" transform="translate(46.73,-44) scale(0.4400,0.4400)" d="M31,0 L0,0 L0,48 L21,48 C28,48 31,53 31,60 L31,88 C31,95 28,100 21,100 L0,100"/><path class="t" transform="translate(69.22,-44) scale(0.4400,0.4400)" d="M3,18 L30,14 M15,0 L4,56 L29,52 M17,30 L17,104 M0,86 L31,74 M37,32 L62,28 L60,96 M37,32 L37,98 L61,94 M37,62 L61,60 M49,2 L50,96"/></g>
<circle cx="1529.3" cy="393.2" r="213.2"/>
<circle cx="1529.3" cy="393.2" r="194.1"/>
<circle cx="1529.3" cy="393.2" r="132.6"/>
<circle cx="1529.3" cy="393.2" r="121"/>
<circle cx="1529.3" cy="393.2" r="80.7"/>
<circle cx="1529.3" cy="393.2" r="70.2"/>
<circle cx="1529.3" cy="393.2" r="55.6"/>
<circle cx="1529.3" cy="393.2" r="260" class="clc"/>
<path d="M1781.09,256.51 Q1782.74,259.59 1779.51,260.93 L1759.39,269.27 A26.45,26.45 0 0 0 1779.63,318.14 L1799.75,309.81 Q1802.98,308.47 1804,311.82 A286.5,286.5 0 0 1 1665.99,644.99 Q1662.91,646.64 1661.57,643.41 L1653.23,623.29 A26.45,26.45 0 0 0 1604.36,643.53 L1612.69,663.65 Q1614.03,666.88 1610.68,667.9 A286.5,286.5 0 0 1 1277.51,529.89 Q1275.86,526.81 1279.09,525.47 L1299.21,517.13 A26.45,26.45 0 0 0 1278.97,468.26 L1258.85,476.59 Q1255.62,477.93 1254.6,474.58 A286.5,286.5 0 0 1 1392.61,141.41 Q1395.69,139.76 1397.03,142.99 L1405.37,163.11 A26.45,26.45 0 0 0 1454.24,142.87 L1445.91,122.75 Q1444.57,119.52 1447.92,118.5 A286.5,286.5 0 0 1 1781.09,256.51 "/>
<line x1="1229.2" y1="393.2" x2="1817" y2="393.2" class="cl"/>
<line x1="1817" y1="393.2" x2="1887" y2="393.2"/>
<line x1="1529.3" y1="93.7" x2="1529.3" y2="607" class="cl"/>
<line x1="1261.37" y1="504.18" x2="1529.3" y2="393.2" class="cl"/>
<line x1="1529.3" y1="393.2" x2="1753.34" y2="300.4" class="cl"/>
<line x1="1753.34" y1="300.4" x2="1859.12" y2="256.58"/>
<line x1="1273.21" y1="343.88" x2="1876.91" y2="460.14"/>
<path class="ar" d="M1273.21,343.88 L1288.8,344.85 L1288.05,348.78 Z"/>
<path class="ar" d="M1784.22,442.29 L1768.62,441.32 L1769.37,437.39 Z"/>
<g transform="translate(1826.5,446.3) rotate(11)"><path class="t" transform="translate(0,-27) scale(0.2700,0.2700)" d="M23,13 C10,13 0,26 0,47 C0,70 10,82 23,82 C36,82 46,70 46,47 C46,26 36,13 23,13 Z M35,-4 L11,99"/><path class="t" transform="translate(17.32,-27) scale(0.2700,0.2700)" d="M0,28 L20,0 L20,100"/><path class="t" transform="translate(27.62,-27) scale(0.2700,0.2700)" d="M0,28 L20,0 L20,100"/><path class="t" transform="translate(37.92,-27) scale(0.2700,0.2700)" d="M17,0 C7,0 1,8 1,23 C1,39 7,47 17,47 C27,47 33,39 33,23 C33,8 27,0 17,0 Z M17,47 C6,47 0,56 0,73 C0,91 6,100 17,100 C28,100 34,91 34,73 C34,56 28,47 17,47 Z"/></g>
<line x1="1757.2" y1="219.58" x2="1236.57" y2="616.2"/>
<path class="ar" d="M1757.2,219.58 L1746.09,230.57 L1743.66,227.39 Z"/>
<path class="ar" d="M1301.4,566.82 L1312.51,555.83 L1314.94,559.01 Z"/>
<g transform="translate(1232.1,615.4) rotate(-37.3)"><path class="t" transform="translate(0,-27) scale(0.2700,0.2700)" d="M23,13 C10,13 0,26 0,47 C0,70 10,82 23,82 C36,82 46,70 46,47 C46,26 36,13 23,13 Z M35,-4 L11,99"/><path class="t" transform="translate(17.26,-27) scale(0.2700,0.2700)" d="M0,28 L20,0 L20,100"/><path class="t" transform="translate(27.5,-27) scale(0.2700,0.2700)" d="M0,0 L23,0 C30,0 34,5 34,13 L34,37 C34,45 30,50 23,50 L2,50 M23,50 C30,50 34,55 34,63 L34,87 C34,95 30,100 23,100 L0,100"/><path class="t" transform="translate(41.52,-27) scale(0.2700,0.2700)" d="M17,0 C6,0 0,20 0,50 C0,80 6,100 17,100 C28,100 34,80 34,50 C34,20 28,0 17,0 Z"/></g>
<path d="M1854.23,258.61 A351.7,351.7 0 0 1 1870.57,308.2"/>
<path d="M1876.59,337.7 A351.7,351.7 0 0 1 1881,393.2"/>
<path class="ar" d="M1881,393.2 L1879,377.7 L1883,377.7 Z"/>
<path class="ar" d="M1854.23,258.61 L1862.01,272.17 L1858.31,273.7 Z"/>
<g transform="translate(1845.2,335.8) rotate(0)"><path class="t" transform="translate(0,-27.4) scale(0.2740,0.2740)" d="M1,20 C3,6 9,0 17,0 C27,0 34,8 34,22 C34,31 31,39 28,46 L0,100 L35,100"/><path class="t" transform="translate(13.63,-27.4) scale(0.2740,0.2740)" d="M1,20 C3,6 9,0 17,0 C27,0 34,8 34,22 C34,31 31,39 28,46 L0,100 L35,100"/><path class="t" transform="translate(27.27,-27.4) scale(0.2740,0.2740)" d="M1.5,91 L1.5,100"/><path class="t" transform="translate(32.14,-27.4) scale(0.2740,0.2740)" d="M31,0 L0,0 L0,48 L21,48 C28,48 31,53 31,60 L31,88 C31,95 28,100 21,100 L0,100"/><path class="t" transform="translate(44.68,-27.4) scale(0.2740,0.2740)" d="M13,0 C6,0 1,6 1,16 C1,26 6,32 13,32 C20,32 25,26 25,16 C25,6 20,0 13,0 Z"/></g>
<line x1="1782.95" y1="259.51" x2="1808.91" y2="248.75"/>
<line x1="1803.19" y1="308.38" x2="1829.15" y2="297.63"/>
<line x1="1749.56" y1="120.12" x2="1832.61" y2="320.6"/>
<path class="ar" d="M1803.73,250.9 L1795.95,237.34 L1799.65,235.81 Z"/>
<path class="ar" d="M1823.98,299.77 L1831.76,313.32 L1828.06,314.86 Z"/>
<g transform="translate(1755.57,117.63) rotate(67.5)"><path class="t" transform="translate(0,-24.5) scale(0.2450,0.2450)" d="M0,28 L20,0 L20,100"/><path class="t" transform="translate(9.45,-24.5) scale(0.2450,0.2450)" d="M1,20 C3,6 9,0 17,0 C27,0 34,8 34,22 C34,31 31,39 28,46 L0,100 L35,100"/><path class="t" transform="translate(22.57,-24.5) scale(0.2450,0.2450)" d="M10,2 C3,24 0,40 0,51 C0,62 3,78 10,100"/><path class="t" transform="translate(29.56,-20.82) scale(0.2082,0.2082)" d="M3,8 L3,100 M3,8 L72,4 L72,100 M3,93 L72,91 M27,10 C27,40 20,58 6,70 M46,8 L46,56 C46,66 52,68 70,68"/><path class="t" transform="translate(49.52,-20.82) scale(0.2082,0.2082)" d="M20,0 L4,38 M9,26 L38,24 C32,56 19,80 0,98 M13,50 L44,90 M55,0 L55,96 M55,38 L73,56 M22,94 L74,102"/><path class="t" transform="translate(69.47,-20.82) scale(0.2082,0.2082)" d="M3,36 L31,32 M17,4 L17,84 M0,96 L33,80 M48,0 L38,30 M44,20 L72,18 C72,60 69,90 57,100 M48,44 L56,52 M38,80 L64,66"/><path class="t" transform="translate(89.01,-20.82) scale(0.2082,0.2082)" d="M2,24 L72,20 M38,0 C29,40 15,62 0,78 M25,50 L66,46 L64,84 L58,84 M29,50 L29,96 M46,36 L46,106"/><path class="t" transform="translate(108.55,-24.5) scale(0.2450,0.2450)" d="M0,2 C7,24 10,40 10,51 C10,62 7,78 0,100"/></g>
<circle cx="1628.8" cy="152.99" r="17.2"/>
<g transform="translate(1628.8,152.99) rotate(-67.5)"><path d="M-2.5,-10.5 L2.5,-10.5 L2.5,-2.5 L10.5,-2.5 L10.5,2.5 L2.5,2.5 L2.5,10.5 L-2.5,10.5 L-2.5,2.5 L-10.5,2.5 L-10.5,-2.5 L-2.5,-2.5 Z" stroke-width="1.2" fill="#fff"/><path d="M-0.9,-11.8 L-0.9,12 M0.9,-11.8 L0.9,12 M-0.9,-11.8 L0.9,-11.8 M-0.9,12 L0.9,12" stroke-width="0.9"/></g>
<circle cx="1289.09" cy="293.7" r="17.2"/>
<g transform="translate(1289.09,293.7) rotate(-157.5)"><path d="M-2.5,-10.5 L2.5,-10.5 L2.5,-2.5 L10.5,-2.5 L10.5,2.5 L2.5,2.5 L2.5,10.5 L-2.5,10.5 L-2.5,2.5 L-10.5,2.5 L-10.5,-2.5 L-2.5,-2.5 Z" stroke-width="1.2" fill="#fff"/><path d="M-0.9,-11.8 L-0.9,12 M0.9,-11.8 L0.9,12 M-0.9,-11.8 L0.9,-11.8 M-0.9,12 L0.9,12" stroke-width="0.9"/></g>
<circle cx="1769.51" cy="492.7" r="17.2"/>
<g transform="translate(1769.51,492.7) rotate(22.5)"><path d="M-2.5,-10.5 L2.5,-10.5 L2.5,-2.5 L10.5,-2.5 L10.5,2.5 L2.5,2.5 L2.5,10.5 L-2.5,10.5 L-2.5,2.5 L-10.5,2.5 L-10.5,-2.5 L-2.5,-2.5 Z" stroke-width="1.2" fill="#fff"/><path d="M-0.9,-11.8 L-0.9,12 M0.9,-11.8 L0.9,12 M-0.9,-11.8 L0.9,-11.8 M-0.9,12 L0.9,12" stroke-width="0.9"/></g>
<circle cx="1429.8" cy="633.41" r="17.2"/>
<g transform="translate(1429.8,633.41) rotate(112.5)"><path d="M-2.5,-10.5 L2.5,-10.5 L2.5,-2.5 L10.5,-2.5 L10.5,2.5 L2.5,2.5 L2.5,10.5 L-2.5,10.5 L-2.5,2.5 L-10.5,2.5 L-10.5,-2.5 L-2.5,-2.5 Z" stroke-width="1.2" fill="#fff"/><path d="M-0.9,-11.8 L-0.9,12 M0.9,-11.8 L0.9,12 M-0.9,-11.8 L0.9,-11.8 M-0.9,12 L0.9,12" stroke-width="0.9"/></g>
<circle cx="1569.7" cy="650.1" r="14.2" fill="#fff"/>
<circle cx="1569.7" cy="650.1" r="12.4" stroke-width="1.1"/>
<g transform="translate(1569.7,650.1) rotate(-9)"><path d="M0,-9.5 L0,-3.5 M-7.5,-3.5 L7.5,-3.5 M-6.5,1.5 L6.5,1.5 M-4.5,6.5 L4.5,6.5" stroke-width="1.7"/></g>
<rect x="1509.5" y="617.5" width="40" height="83.2" fill="#fff" stroke="none"/>
<path d="M1500.4,608.1 L1500.4,614.5 A3,3 0 0 0 1503.4,617.5 L1555.5,617.5 A3,3 0 0 0 1558.5,614.5 L1558.5,608.1 Z" fill="#fff"/>
<line x1="1500.9" y1="613.1" x2="1558" y2="613.1"/>
<path d="M1509.5,617.5 L1509.5,700.7 L1549.5,700.7 L1549.5,617.5"/>
<line x1="1529.3" y1="620.9" x2="1529.3" y2="652.4"/>
<line x1="1529.3" y1="655.5" x2="1529.3" y2="657"/>
<line x1="1529.3" y1="662.5" x2="1529.3" y2="693.4"/>
<circle cx="1529.3" cy="393.2" r="260" class="clc" clip-path="url(#sl)"/>
<line x1="1512.1" y1="700.7" x2="1496" y2="885.7"/>
<line x1="1520.3" y1="700.7" x2="1503.6" y2="885.7"/>
<line x1="1525.2" y1="700.7" x2="1525.6" y2="885.7"/>
<line x1="1534.3" y1="700.7" x2="1532.8" y2="885.7"/>
<line x1="1538.2" y1="700.7" x2="1555.3" y2="885.7"/>
<line x1="1548.6" y1="700.7" x2="1562.8" y2="885.7"/>
<path d="M1512.8,714 L1516.8,718 M1516.8,714 L1512.8,718" stroke-width="1"/>
<path d="M1505.8,792.3 L1509.8,796.3 M1509.8,792.3 L1505.8,796.3" stroke-width="1"/>
<path d="M1498.5,871.4 L1502.5,875.4 M1502.5,871.4 L1498.5,875.4" stroke-width="1"/>
<path d="M1527.4,714 L1531.4,718 M1531.4,714 L1527.4,718" stroke-width="1"/>
<path d="M1527.4,788.4 L1531.4,792.4 M1531.4,788.4 L1527.4,792.4" stroke-width="1"/>
<path d="M1527.4,868.8 L1531.4,872.8 M1531.4,868.8 L1527.4,872.8" stroke-width="1"/>
<path d="M1542.2,714 L1546.2,718 M1546.2,714 L1542.2,718" stroke-width="1"/>
<path d="M1549,792 L1553,796 M1553,792 L1549,796" stroke-width="1"/>
<path d="M1556,871 L1560,875 M1560,871 L1556,875" stroke-width="1"/>
<rect x="1485.3" y="885.7" width="89" height="59.6"/>
<path d="M1485.3,918.7 L1490.1,918.7 L1490.1,940 Q1490,944 1488,945.3" stroke-width="1.2"/>
<path d="M1574.3,918.7 L1569.5,918.7 L1569.5,940 Q1569.6,944 1571.6,945.3" stroke-width="1.2"/>
<path d="M1513.1,885.7 L1513.1,936.5 L1546.5,936.5 L1546.5,885.7"/>
<line x1="1513.1" y1="892.6" x2="1546.5" y2="892.6"/>
<line x1="1513.1" y1="896.4" x2="1546.5" y2="896.4"/>
<line x1="1519.7" y1="885.7" x2="1519.7" y2="892.6"/>
<line x1="1539.5" y1="885.7" x2="1539.5" y2="892.6"/>
<line x1="1524" y1="896.4" x2="1524" y2="936.5"/>
<line x1="1535" y1="896.4" x2="1535" y2="936.5"/>
<line x1="1529.6" y1="951.5" x2="1529.6" y2="1016" stroke-width="3.4"/>
<g transform="translate(1505.6,1006.1) rotate(0)"><path class="t" transform="translate(0,-31) scale(0.3100,0.3100)" d="M0,0 L0,100 M37,0 L0,66 M12,45 L38,100"/></g>
<line x1="1559.8" y1="909.3" x2="1642.1" y2="848.9"/>
<line x1="1642.1" y1="848.9" x2="1715.2" y2="848.9" stroke-width="3"/>
<g transform="translate(1647.2,844.7) rotate(0)"><path class="t" transform="translate(0,-32.6) scale(0.3260,0.3260)" d="M0,0 L18,100 L36,0"/><path class="t" transform="translate(17.48,-32.6) scale(0.3260,0.3260)" d="M0,0 L0,100 M32,0 L32,100 M0,50 L32,50"/><path class="t" transform="translate(33.67,-32.6) scale(0.3260,0.3260)" d="M0,52 L30,52"/><path class="t" transform="translate(49.19,-32.6) scale(0.3260,0.3260)" d="M31,0 L0,0 L0,48 L21,48 C28,48 31,53 31,60 L31,88 C31,95 28,100 21,100 L0,100"/></g>
<g transform="translate(1647.2,878.8) rotate(0)" style="stroke-width:1.55px"><path class="t" transform="translate(0,-22.4) scale(0.2240,0.2240)" d="M17,1 L2,47 L27,40 M31,27 L2,73 L31,66 M0,100 L28,88 M35,27 L61,25 M46,27 L46,96 M28,98 L64,91"/><path class="t" transform="translate(14.41,-22.4) scale(0.2240,0.2240)" d="M5,6 L30,4 M12,8 L17,22 M25,8 L21,22 M0,26 L35,24 M10,30 L7,50 M26,30 L26,50 M39,6 L68,4 L66,50 M39,6 L39,50 M39,24 L66,22 M8,62 L62,58 M35,52 L35,92 M14,78 L56,76 M0,98 L70,94"/><path class="t" transform="translate(30.17,-22.4) scale(0.2240,0.2240)" d="M4,4 L11,18 M30,2 L23,18 M0,30 L35,26 M17,0 L17,104 M16,38 L2,74 M21,44 L35,60 M42,24 L51,34 M40,48 L51,58 M35,80 L70,68 M56,0 L56,104"/><path class="t" transform="translate(45.92,-22.4) scale(0.2240,0.2240)" d="M18,0 L0,46 M11,28 L11,104 M35,4 L28,30 M28,28 L68,24 M23,58 L70,54 M49,0 L49,106"/></g>
</g></svg></body></html>
